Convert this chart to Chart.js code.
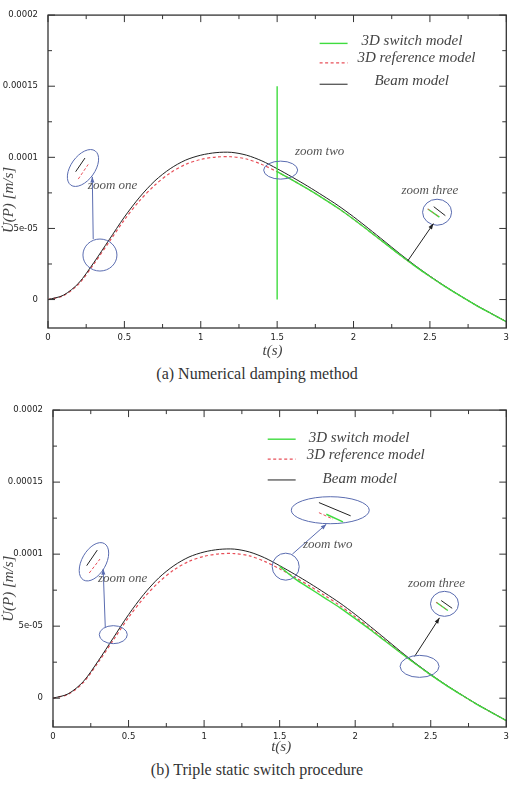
<!DOCTYPE html>
<html>
<head>
<meta charset="utf-8">
<script src="https://cdn.jsdelivr.net/npm/chart.js@4.4.0/dist/chart.umd.min.js"></script>
<style>
body { margin:0; background:#fff; width:514px; height:789px; position:relative; overflow:hidden; }
canvas { position:absolute; left:0; }
.cap { position:absolute; left:0; width:514px; text-align:center; font-family:"Liberation Serif", serif; font-size:16px; color:#333; }
</style>
</head>
<body>
<canvas id="chartA" width="514" height="360" style="top:0"></canvas>
<div class="cap" style="top:365px">(a) Numerical damping method</div>
<canvas id="chartB" width="514" height="360" style="top:395px"></canvas>
<div class="cap" style="top:761px">(b) Triple static switch procedure</div>
<script>
// time axis (s) and velocities (m/s)
const timeSteps = [0, 0.1, 0.2, 0.3, 0.4, 0.5, 0.6, 0.7, 0.8, 0.9, 1.0, 1.1, 1.2, 1.3, 1.4, 1.5,
                   1.6, 1.7, 1.8, 1.9, 2.0, 2.1, 2.2, 2.3, 2.4, 2.5, 2.6, 2.7, 2.8, 2.9, 3.0];
const beamModel = [0, 0.3e-5, 1.15e-5, 2.6e-5, 4.2e-5, 5.8e-5, 7.2e-5, 8.35e-5, 9.2e-5, 9.8e-5, 10.15e-5,
                   10.33e-5, 10.35e-5, 10.15e-5, 9.75e-5, 9.2e-5, 8.6e-5, 7.97e-5, 7.3e-5, 6.6e-5, 5.82e-5,
                   4.98e-5, 4.12e-5, 3.25e-5, 2.42e-5, 1.65e-5, 0.93e-5, 0.26e-5, -0.38e-5, -0.97e-5, -1.55e-5];
const refModel = [0, 0.27e-5, 1.08e-5, 2.5e-5, 4.05e-5, 5.6e-5, 6.95e-5, 8.05e-5, 8.9e-5, 9.5e-5, 9.85e-5,
                  10.02e-5, 10.04e-5, 9.88e-5, 9.5e-5, 8.98e-5, 8.4e-5, 7.78e-5, 7.12e-5, 6.42e-5, 5.65e-5,
                  4.83e-5, 4.0e-5, 3.17e-5, 2.37e-5, 1.62e-5, 0.91e-5, 0.25e-5, -0.39e-5, -0.98e-5, -1.56e-5];
const switchTime = [1.5, 1.6, 1.7, 1.8, 1.9, 2.0, 2.1, 2.2, 2.3, 2.4, 2.5, 2.6, 2.7, 2.8, 2.9, 3.0];
const switchDamping = [9.0e-5, 8.4e-5, 7.78e-5, 7.12e-5, 6.42e-5, 5.65e-5, 4.83e-5, 4.0e-5, 3.17e-5, 2.37e-5,
                       1.62e-5, 0.91e-5, 0.25e-5, -0.39e-5, -0.98e-5, -1.56e-5];
const spikeTime = [1.5, 1.5];
const spikeDamping = [0, 1.5e-4];
const switchTriple = [9.15e-5, 8.3e-5, 7.62e-5, 6.95e-5, 6.27e-5, 5.52e-5, 4.75e-5, 3.95e-5, 3.15e-5, 2.37e-5,
                      1.62e-5, 0.91e-5, 0.25e-5, -0.39e-5, -0.98e-5, -1.56e-5];

const xTicks = [0, 0.5, 1, 1.5, 2, 2.5, 3];
const xTickLabels = ['0', '0.5', '1', '1.5', '2', '2.5', '3'];
const yTicks = [0, 5e-5, 1e-4, 1.5e-4, 2e-4];
const yTickLabels = ['0', '5e-05', '0.0001', '0.00015', '0.0002'];
const seriesNames = ['3D switch model', '3D reference model', 'Beam model'];

const GREEN = '#3fdc3f', RED = '#e8505a', BLACK = '#222', BLUE = '#5a6cb0';

function pts(ts, vs) { return ts.map((t, i) => ({ x: t, y: vs[i] })); }

// frame, inward ticks, legend, titles and zoom annotations
function makeDecor(cfg) {
  return {
    id: 'decor',
    afterDraw(chart) {
      const { ctx, chartArea: a, scales: { x, y } } = chart;
      const px = t => x.getPixelForValue(t), py = v => y.getPixelForValue(v);
      ctx.save();
      ctx.strokeStyle = '#333';
      ctx.lineWidth = 1.3;
      ctx.strokeRect(a.left, a.top, a.right - a.left, a.bottom - a.top);
      ctx.lineWidth = 1;
      const tick = (x1, y1, x2, y2) => { ctx.beginPath(); ctx.moveTo(x1, y1); ctx.lineTo(x2, y2); ctx.stroke(); };
      xTicks.forEach((t, i) => {
        const X = px(t);
        tick(X, a.bottom, X, a.bottom - 7); tick(X, a.top, X, a.top + 7);
        if (i < xTicks.length - 1) {
          const M = px((t + xTicks[i + 1]) / 2);
          tick(M, a.bottom, M, a.bottom - 4); tick(M, a.top, M, a.top + 4);
        }
      });
      yTicks.forEach((v, i) => {
        const Y = py(v);
        tick(a.left, Y, a.left + 7, Y); tick(a.right, Y, a.right - 7, Y);
        if (i < yTicks.length - 1) {
          const M = py((v + yTicks[i + 1]) / 2);
          tick(a.left, M, a.left + 4, M); tick(a.right, M, a.right - 4, M);
        }
      });

      // legend
      const styles = [{ c: GREEN, w: 1.4, d: [] }, { c: RED, w: 1.2, d: [3, 2.5] }, { c: BLACK, w: 1, d: [] }];
      ctx.font = 'italic 15px "Liberation Serif", serif';
      ctx.textBaseline = 'middle';
      ctx.textAlign = 'left';
      cfg.legend.rows.forEach((r, i) => {
        ctx.strokeStyle = styles[i].c; ctx.lineWidth = styles[i].w; ctx.setLineDash(styles[i].d);
        tick(px(cfg.legend.t1), py(r.lineV), px(cfg.legend.t2), py(r.lineV));
        ctx.setLineDash([]);
        ctx.fillStyle = '#444';
        ctx.fillText(seriesNames[i], px(r.textT), py(r.textV));
      });

      // axis titles
      ctx.fillStyle = '#444';
      ctx.font = 'italic 15px "Liberation Serif", serif';
      ctx.textAlign = 'center';
      ctx.fillText('t(s)', px(cfg.xTitleT), a.bottom + cfg.xTitleGap);
      ctx.save();
      ctx.translate(9, py(cfg.yTitleV));
      ctx.rotate(-Math.PI / 2);
      ctx.fillText('U\u0307(P) [m/s]', 0, 0);
      ctx.restore();

      // annotations
      cfg.items.forEach(it => {
        ctx.setLineDash([]);
        if (it.type === 'ellipse') {
          ctx.strokeStyle = BLUE; ctx.lineWidth = 1;
          ctx.beginPath();
          ctx.ellipse(px(it.t), py(it.v), it.rx, it.ry, it.rot || 0, 0, Math.PI * 2);
          ctx.stroke();
        } else if (it.type === 'seg' || it.type === 'arrow') {
          const x1 = px(it.t1), y1 = py(it.v1), x2 = px(it.t2), y2 = py(it.v2);
          ctx.strokeStyle = it.color; ctx.lineWidth = it.w || 1;
          if (it.dash) ctx.setLineDash(it.dash);
          tick(x1, y1, x2, y2);
          ctx.setLineDash([]);
          if (it.type === 'arrow') {
            const ang = Math.atan2(y2 - y1, x2 - x1), L = 6;
            ctx.fillStyle = it.color;
            ctx.beginPath();
            ctx.moveTo(x2, y2);
            ctx.lineTo(x2 - L * Math.cos(ang - 0.35), y2 - L * Math.sin(ang - 0.35));
            ctx.lineTo(x2 - L * Math.cos(ang + 0.35), y2 - L * Math.sin(ang + 0.35));
            ctx.closePath();
            ctx.fill();
          }
        } else if (it.type === 'text') {
          ctx.fillStyle = '#555';
          ctx.font = 'italic 13px "Liberation Serif", serif';
          ctx.textAlign = it.align;
          ctx.fillText(it.text, px(it.t), py(it.v));
        }
      });
      ctx.restore();
    }
  };
}

function makeChart(id, switchData, extra, yWidth, pad, cfg) {
  const datasets = [
    { data: switchData, borderColor: GREEN, borderWidth: 1.4, tension: 0.3 },
  ];
  if (extra) datasets.push({ data: extra, borderColor: GREEN, borderWidth: 1.4, tension: 0 });
  datasets.push(
    { data: pts(timeSteps, beamModel), borderColor: BLACK, borderWidth: 1, tension: 0.3 },
    { data: pts(timeSteps, refModel), borderColor: RED, borderWidth: 1.2, borderDash: [3, 2.5], tension: 0.3 }
  );
  datasets.forEach(d => { d.pointRadius = 0; d.fill = false; });
  const tickFont = { family: '"DejaVu Sans", sans-serif', size: 8.5 };
  return new Chart(document.getElementById(id), {
    type: 'line',
    data: { datasets },
    options: {
      responsive: false,
      animation: false,
      layout: { padding: pad },
      plugins: { legend: { display: false }, tooltip: { enabled: false } },
      scales: {
        x: {
          type: 'linear', min: 0, max: 3,
          grid: { display: false, drawTicks: false }, border: { display: false },
          ticks: { padding: 5, font: tickFont, color: '#222', autoSkip: false, maxRotation: 0,
                   callback: (v, i) => xTickLabels[i] },
          afterBuildTicks: s => { s.ticks = xTicks.map(v => ({ value: v })); },
          afterFit: s => { s.height = 22; }
        },
        y: {
          type: 'linear', min: -2e-5, max: 2e-4,
          grid: { display: false, drawTicks: false }, border: { display: false },
          ticks: { padding: 10, font: tickFont, color: '#222', autoSkip: false,
                   callback: (v, i) => yTickLabels[i] },
          afterBuildTicks: s => { s.ticks = yTicks.map(v => ({ value: v })); },
          afterFit: s => { s.width = yWidth; }
        }
      }
    },
    plugins: [makeDecor(cfg)]
  });
}

const cfgA = {
  xTitleT: 1.47, xTitleGap: 23, yTitleV: 7.0e-5,
  legend: { t1: 1.778, t2: 1.961, rows: [
    { lineV: 1.801e-4, textT: 2.052, textV: 1.815e-4 },
    { lineV: 1.664e-4, textT: 2.026, textV: 1.699e-4 },
    { lineV: 1.514e-4, textT: 2.137, textV: 1.534e-4 }] },
  items: [
    { type: 'ellipse', t: 0.229, v: 9.25e-5, rx: 21, ry: 12, rot: -0.95 },
    { type: 'seg', t1: 0.181, v1: 8.99e-5, t2: 0.242, v2: 9.95e-5, color: BLACK },
    { type: 'seg', t1: 0.198, v1: 8.47e-5, t2: 0.263, v2: 9.5e-5, color: RED, dash: [3, 2] },
    { type: 'ellipse', t: 0.34, v: 3.13e-5, rx: 17, ry: 16 },
    { type: 'arrow', t1: 0.296, v1: 4.25e-5, t2: 0.29, v2: 8.63e-5, color: BLUE },
    { type: 'text', t: 0.261, v: 8.0e-5, text: 'zoom one', align: 'left' },
    { type: 'ellipse', t: 1.523, v: 9.1e-5, rx: 17, ry: 9 },
    { type: 'text', t: 1.778, v: 1.037e-4, text: 'zoom two', align: 'center' },
    { type: 'ellipse', t: 2.547, v: 6.14e-5, rx: 14.5, ry: 13 },
    { type: 'seg', t1: 2.525, v1: 6.53e-5, t2: 2.601, v2: 5.9e-5, color: BLACK },
    { type: 'seg', t1: 2.486, v1: 6.37e-5, t2: 2.562, v2: 5.8e-5, color: GREEN, w: 1.4 },
    { type: 'seg', t1: 2.486, v1: 6.37e-5, t2: 2.562, v2: 5.8e-5, color: RED, dash: [2, 3] },
    { type: 'arrow', t1: 2.355, v1: 2.72e-5, t2: 2.523, v2: 5.34e-5, color: BLACK },
    { type: 'text', t: 2.5, v: 7.67e-5, text: 'zoom three', align: 'center' }
  ]
};

const cfgB = {
  xTitleT: 1.51, xTitleGap: 20, yTitleV: 7.6e-5,
  legend: { t1: 1.421, t2: 1.606, rows: [
    { lineV: 1.798e-4, textT: 1.692, textV: 1.805e-4 },
    { lineV: 1.66e-4, textT: 1.679, textV: 1.687e-4 },
    { lineV: 1.515e-4, textT: 1.784, textV: 1.521e-4 }] },
  items: [
    { type: 'ellipse', t: 0.271, v: 9.47e-5, rx: 21, ry: 12, rot: -1.05 },
    { type: 'seg', t1: 0.223, v1: 9.2e-5, t2: 0.293, v2: 10.28e-5, color: BLACK },
    { type: 'seg', t1: 0.240, v1: 8.69e-5, t2: 0.311, v2: 9.66e-5, color: RED, dash: [3, 2] },
    { type: 'arrow', t1: 0.346, v1: 4.93e-5, t2: 0.332, v2: 8.97e-5, color: BLUE },
    { type: 'ellipse', t: 0.399, v: 4.41e-5, rx: 14, ry: 9 },
    { type: 'text', t: 0.297, v: 8.28e-5, text: 'zoom one', align: 'left' },
    { type: 'ellipse', t: 1.54, v: 9.13e-5, rx: 13.5, ry: 13.5 },
    { type: 'arrow', t1: 1.584, v1: 1.0e-4, t2: 1.809, v2: 1.208e-4, color: BLUE },
    { type: 'ellipse', t: 1.835, v: 1.305e-4, rx: 39, ry: 13.5 },
    { type: 'seg', t1: 1.76, v1: 1.358e-4, t2: 1.97, v2: 1.266e-4, color: BLACK },
    { type: 'seg', t1: 1.76, v1: 1.288e-4, t2: 1.853, v2: 1.243e-4, color: RED, dash: [3, 2] },
    { type: 'seg', t1: 1.809, v1: 1.277e-4, t2: 1.919, v2: 1.224e-4, color: GREEN, w: 1.4 },
    { type: 'text', t: 1.818, v: 1.063e-4, text: 'zoom two', align: 'center' },
    { type: 'ellipse', t: 2.591, v: 6.55e-5, rx: 14, ry: 12.5 },
    { type: 'seg', t1: 2.569, v1: 6.78e-5, t2: 2.642, v2: 6.24e-5, color: BLACK },
    { type: 'seg', t1: 2.536, v1: 6.66e-5, t2: 2.613, v2: 6.09e-5, color: GREEN, w: 1.4 },
    { type: 'seg', t1: 2.536, v1: 6.66e-5, t2: 2.613, v2: 6.09e-5, color: RED, dash: [2, 3] },
    { type: 'arrow', t1: 2.393, v1: 2.9e-5, t2: 2.558, v2: 5.58e-5, color: BLACK },
    { type: 'ellipse', t: 2.426, v: 2.21e-5, rx: 19.5, ry: 11 },
    { type: 'text', t: 2.538, v: 7.95e-5, text: 'zoom three', align: 'center' }
  ]
};

makeChart('chartA', pts(switchTime, switchDamping), pts(spikeTime, spikeDamping), 48,
          { left: 0, right: 7, top: 6, bottom: 10 }, cfgA);
makeChart('chartB', pts(switchTime, switchTriple), null, 53,
          { left: 0, right: 7, top: 14, bottom: 6 }, cfgB);
</script>
</body>
</html>
